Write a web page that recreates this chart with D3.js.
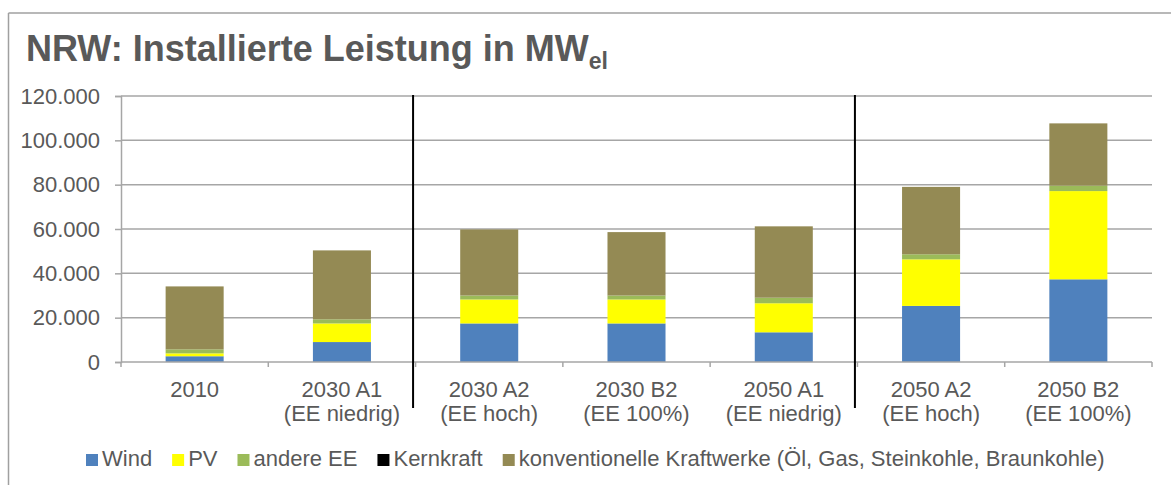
<!DOCTYPE html>
<html>
<head>
<meta charset="utf-8">
<script src="https://cdn.jsdelivr.net/npm/d3@7"></script>
<style>
  body { margin: 0; background: #fff; }
  text { font-family: "Liberation Sans", Arial, sans-serif; fill: #595959; }
</style>
</head>
<body>
<div id="canvas"></div>
<script>
// values in MW
var categories = ["2010", "2030 A1", "2030 A2", "2030 B2", "2050 A1", "2050 A2", "2050 B2"];
var subLabels = ["", "(EE niedrig)", "(EE hoch)", "(EE 100%)", "(EE niedrig)", "(EE hoch)", "(EE 100%)"];
var seriesNames = ["Wind", "PV", "andere EE", "Kernkraft", "konventionelle Kraftwerke (Öl, Gas, Steinkohle, Braunkohle)"];
var seriesColors = ["#4f81bd", "#ffff00", "#9bbb59", "#000000", "#948a54"];
var wind = [2600, 9000, 17400, 17400, 13400, 25300, 37300];
var pv = [1300, 8400, 10800, 10800, 13100, 21000, 39800];
var andereEE = [1800, 1850, 1800, 1800, 2500, 2300, 2450];
var kernkraft = [0, 0, 0, 0, 0, 0, 0];
var konventionell = [28400, 31100, 29800, 28600, 32200, 30400, 28100];
var yTicks = [0, 20000, 40000, 60000, 80000, 100000, 120000];
var dividerAfter = [1, 4];   // vertical separators after these categories

var width = 1171, height = 485;
var plotLeft = 121, plotRight = 1152, plotTop = 96, plotBottom = 362;
var gridColor = "#a6a6a6";
var fontSize = "22px";

var svg = d3.select("#canvas").append("svg").attr("width", width).attr("height", height);

// outer frame (top + left only, rest runs off the picture)
svg.append("line").attr("x1", 8.5).attr("x2", width).attr("y1", 13).attr("y2", 13)
    .attr("stroke", "#a0a0a0").attr("stroke-width", 1.5);
svg.append("line").attr("x1", 8.5).attr("x2", 8.5).attr("y1", 13).attr("y2", height)
    .attr("stroke", "#a0a0a0").attr("stroke-width", 1.5);

// title
var title = svg.append("text").attr("x", 26).attr("y", 61)
    .style("font-size", "36px").style("font-weight", "bold");
title.append("tspan").text("NRW: Installierte Leistung in MW");
title.append("tspan").attr("dy", 8).style("font-size", "23px").text("el");

var de = d3.formatLocale({decimal: ",", thousands: ".", grouping: [3], currency: ["", "€"]});
var fmt = de.format(",.0f");

var x = d3.scaleBand().domain(categories).range([plotLeft, plotRight]).padding(0);
var y = d3.scaleLinear().domain([0, 120000]).range([plotBottom, plotTop]);

// gridlines
svg.selectAll("line.grid").data(yTicks.filter(function(d) { return d > 0; })).enter()
    .append("line").attr("class", "grid")
    .attr("x1", plotLeft).attr("x2", plotRight)
    .attr("y1", function(d) { return y(d); }).attr("y2", function(d) { return y(d); })
    .attr("stroke", gridColor).attr("stroke-width", 1.5);

// y axis
var yAxis = svg.append("g").attr("transform", "translate(" + plotLeft + ",0)")
    .call(d3.axisLeft(y).tickValues(yTicks).tickSize(6).tickPadding(15).tickFormat(fmt));
yAxis.select(".domain").attr("stroke", gridColor).attr("stroke-width", 1.5);
yAxis.selectAll(".tick line").attr("stroke", gridColor).attr("stroke-width", 1.5);
yAxis.selectAll(".tick text").style("font-size", fontSize).attr("fill", "#595959")
    .style("font-family", "'Liberation Sans', Arial, sans-serif");

// stacked bars
var rows = categories.map(function(c, i) {
    return {cat: c, s0: wind[i], s1: pv[i], s2: andereEE[i], s3: kernkraft[i], s4: konventionell[i]};
});
var stack = d3.stack().keys(["s0", "s1", "s2", "s3", "s4"])(rows);
var barW = x.bandwidth() * 0.394;

svg.selectAll("g.series").data(stack).enter().append("g").attr("class", "series")
    .attr("fill", function(d, i) { return seriesColors[i]; })
    .selectAll("rect").data(function(d) { return d; }).enter().append("rect")
    .attr("x", function(d) { return x(d.data.cat) + (x.bandwidth() - barW) / 2; })
    .attr("width", barW)
    .attr("y", function(d) { return y(d[1]); })
    .attr("height", function(d) { return y(d[0]) - y(d[1]); });

// x axis line + boundary ticks
svg.append("line").attr("x1", plotLeft).attr("x2", plotRight).attr("y1", plotBottom).attr("y2", plotBottom)
    .attr("stroke", gridColor).attr("stroke-width", 1.5);
var bounds = categories.map(function(c) { return x(c); }).concat([plotRight]);
svg.selectAll("line.xtick").data(bounds).enter().append("line").attr("class", "xtick")
    .attr("x1", function(d) { return d; }).attr("x2", function(d) { return d; })
    .attr("y1", plotBottom).attr("y2", plotBottom + 5)
    .attr("stroke", gridColor).attr("stroke-width", 1.5);

// category labels
var lab = svg.selectAll("text.cat").data(categories).enter().append("text").attr("class", "cat")
    .attr("text-anchor", "middle").style("font-size", fontSize)
    .attr("x", function(d) { return x(d) + x.bandwidth() / 2; })
    .attr("y", 397);
lab.append("tspan").text(function(d) { return d; });
lab.append("tspan").attr("x", function(d) { return x(d) + x.bandwidth() / 2; }).attr("dy", 24)
    .text(function(d, i) { return subLabels[i]; });

// black scenario separators
svg.selectAll("line.divider").data(dividerAfter).enter().append("line").attr("class", "divider")
    .attr("x1", function(i) { return x(categories[i + 1]) - 2.5; })
    .attr("x2", function(i) { return x(categories[i + 1]) - 2.5; })
    .attr("y1", 95).attr("y2", 408)
    .attr("stroke", "#000").attr("stroke-width", 2);

// legend
var lg = svg.append("g");
var lx = 86;
seriesNames.forEach(function(name, i) {
    lg.append("rect").attr("x", lx).attr("y", 454).attr("width", 12).attr("height", 12)
        .attr("fill", seriesColors[i]);
    var t = lg.append("text").attr("x", lx + 16).attr("y", 466).style("font-size", fontSize).text(name);
    lx += 16 + t.node().getComputedTextLength() + 20;
});
</script>
</body>
</html>
